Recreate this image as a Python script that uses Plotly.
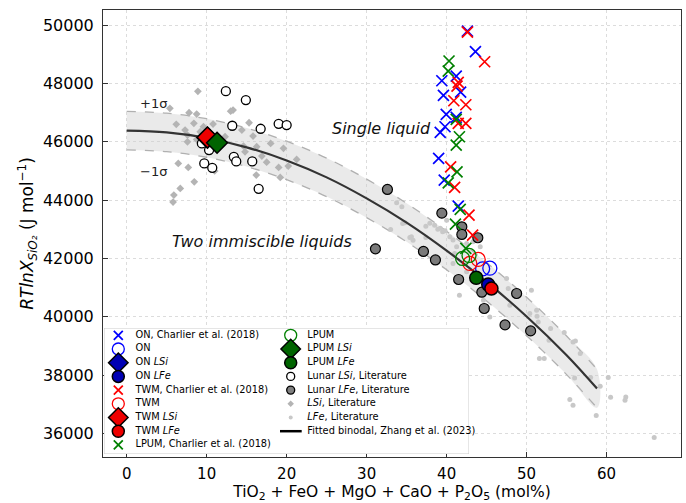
import plotly.graph_objects as go

# ---------------- data ----------------
curve_x = [0, 5, 10, 15, 20, 25, 30, 35, 40, 45, 50, 55, 58.8]
curve_y = [46380, 46320, 46130, 45810, 45360, 44780, 44060, 43230, 42270, 41200, 40010, 38680, 37540]
sigma = 660

on_cross_x = [42.6, 43.6, 39.4, 41.2, 39.6, 41.75, 39.95, 41.2, 39.8, 39.2, 39.0, 39.7, 41.45]
on_cross_y = [49795, 49087, 48092, 48253, 47592, 47705, 46940, 46837, 46515, 46322, 45430, 44686, 43794]
twm_cross_x = [42.6, 44.75, 41.45, 41.3, 40.9, 42.4, 41.45, 42.4, 40.5, 41.0, 42.8, 43.25]
twm_cross_y = [49761, 48744, 48037, 47910, 47406, 47269, 46631, 46631, 45142, 44436, 43486, 42800]
lpum_cross_x = [40.3, 40.2, 41.2, 41.6, 41.2, 41.3, 40.2, 41.7, 41.1, 42.4]
lpum_cross_y = [48768, 48425, 46768, 46172, 45887, 44971, 44594, 43681, 43177, 42344]

on_x, on_y = [44.5, 45.4], [41644, 41668]
twm_x, twm_y = [42.9, 43.95], [41830, 41966]
lpum_x, lpum_y = [42.0, 42.8], [42000, 42103]

on_lsi_x, on_lsi_y = [10.1], [46140]
twm_lsi_x, twm_lsi_y = [10.1], [46151]
lpum_lsi_x, lpum_lsi_y = [11.3], [45966]
on_lfe_x, on_lfe_y = [45.2], [41107]
twm_lfe_x, twm_lfe_y = [45.6], [40970]
lpum_lfe_x, lpum_lfe_y = [43.7], [41335]

lunar_lsi_x = [12.4, 14.9, 13.2, 16.75, 19.0, 20.0, 9.4, 10.3, 9.7, 10.7, 13.4, 13.7, 15.7, 16.5]
lunar_lsi_y = [47736, 47430, 46549, 46446, 46617, 46573, 45945, 45715, 45259, 45108, 45485, 45327, 45327, 44388]
lunar_lfe_x = [32.6, 31.1, 37.1, 38.6, 39.4, 41.9, 41.9, 43.9, 41.5, 44.4, 48.75, 44.7, 47.3, 50.5]
lunar_lfe_y = [44367, 42330, 42241, 41950, 43554, 43085, 42824, 42710, 41280, 40845, 40800, 40286, 39723, 39517]

lsi_lit_x = [8.9, 5.4, 6.2, 7.8, 8.75, 7.3, 8.4, 7.6, 7.6, 8.75, 9.2, 6.45, 7.7, 8.45, 6.7, 5.9, 5.8, 9.6, 10.8,
             13.3, 15.3, 14.4, 15.8, 14.6, 16.25, 18.0, 19.6, 16.9, 21.25, 14.8, 19.0, 20.2, 16.2, 19.2, 12.3,
             13.0, 17.5, 11.0]
lsi_lit_y = [47729, 47146, 46597, 46995, 46950, 46401, 46631, 46230, 46000, 46082, 46343, 45259, 45122, 44628,
             44401, 44172, 43932, 46515, 46607, 47087, 46652, 46401, 46195, 45852, 45829, 45945, 45774, 45510,
             45396, 45657, 45122, 45166, 44858, 44779, 46172, 47050, 45300, 45000]
lfe_lit_x = [33.75, 34.4, 34.8, 33.0, 35.4, 35.8, 37.4, 37.4, 34.5, 35.6, 37.9, 38.5, 39.2, 39.5, 40.0, 40.4,
             40.8, 41.25, 42.5, 43.3, 44.2, 41.0, 40.8, 42.5, 41.6, 44.6, 45.4, 47.7, 47.9, 50.6, 51.25, 47.5,
             50.4, 51.3, 51.45, 53.0, 52.8, 51.6, 52.2, 54.7, 55.8, 56.1, 56.7, 56.0, 58.0, 59.2, 60.2, 55.4,
             55.8, 58.7, 60.5, 62.4, 62.3, 65.95, 38.9, 39.8]
lfe_lit_y = [43908, 43770, 43222, 42995, 42721, 42628, 43108, 42721, 43201, 42742, 43211, 43143, 43040, 42920,
             43314, 42742, 42629, 42400, 42515, 42570, 42400, 42172, 41830, 41541, 40742, 40570, 39998, 40972,
             40399, 40913, 40227, 41315, 40114, 40021, 39826, 39599, 39198, 38570, 38570, 39462, 39140, 39174,
             38742, 37905, 37919, 37620, 37919, 37164, 36969, 36615, 37243, 37253, 37140, 35861, 43000, 42950]

x_ticks = [0, 10, 20, 30, 40, 50, 60]
y_ticks = [36000, 38000, 40000, 42000, 44000, 46000, 48000, 50000]

# legend entries: (label, symbol, size, fill, edge, edge width)
legend_left = [
    ("ON, Charlier et al. (2018)", "x-thin", 9, "#0000ff", "#0000ff", 1.8),
    ("ON", "circle-open", 12, "#0000ff", "#0000ff", 1.3),
    ("ON <i>LSi</i>", "diamond", 15, "#0000b4", "black", 1.5),
    ("ON <i>LFe</i>", "circle", 12, "#0000b4", "black", 1.5),
    ("TWM, Charlier et al. (2018)", "x-thin", 9, "#ff0000", "#ff0000", 1.8),
    ("TWM", "circle-open", 12, "#ff0000", "#ff0000", 1.3),
    ("TWM <i>LSi</i>", "diamond", 15, "#ee0000", "black", 1.5),
    ("TWM <i>LFe</i>", "circle", 12, "#ee0000", "black", 1.5),
    ("LPUM, Charlier et al. (2018)", "x-thin", 9, "#008000", "#008000", 1.8),
]
legend_right = [
    ("LPUM", "circle-open", 12, "#008000", "#008000", 1.3),
    ("LPUM <i>LSi</i>", "diamond", 15, "#006400", "black", 1.5),
    ("LPUM <i>LFe</i>", "circle", 12, "#006400", "black", 1.5),
    ("Lunar <i>LSi</i>, Literature", "circle", 8, "white", "black", 1.3),
    ("Lunar <i>LFe</i>, Literature", "circle", 8, "#808080", "black", 1.3),
    ("<i>LSi</i>, Literature", "diamond", 5, "#b4b4b4", "#b4b4b4", 0),
    ("<i>LFe</i>, Literature", "circle", 4, "#c8c8c8", "#c8c8c8", 0),
]
fit_label = "Fitted binodal, Zhang et al. (2023)"

FONT = "DejaVu Sans"
fig = go.Figure()

# ---------------- band ----------------
upper = [v + sigma for v in curve_y]
lower = [v - sigma for v in curve_y]
fig.add_trace(go.Scatter(x=curve_x + curve_x[::-1], y=upper + lower[::-1], fill="toself",
                         fillcolor="rgba(205,205,205,0.42)", line=dict(width=0), mode="lines",
                         line_shape="spline", hoverinfo="skip", showlegend=False))
for b in (upper, lower):
    fig.add_trace(go.Scatter(x=curve_x, y=b, mode="lines", line=dict(color="#b0b0b0", width=1.3, dash="dash"),
                             line_shape="spline", showlegend=False))

# ---------------- literature ----------------
fig.add_trace(go.Scatter(x=lsi_lit_x, y=lsi_lit_y, mode="markers",
                         marker=dict(symbol="diamond", size=6, color="#b4b4b4", opacity=1), showlegend=False))
fig.add_trace(go.Scatter(x=lfe_lit_x, y=lfe_lit_y, mode="markers",
                         marker=dict(symbol="circle", size=5, color="#c8c8c8", opacity=1), showlegend=False))

# ---------------- fitted curve ----------------
fig.add_trace(go.Scatter(x=curve_x, y=curve_y, mode="lines", line=dict(color="#333333", width=2.2),
                         line_shape="spline", showlegend=False))

# ---------------- lunar ----------------
fig.add_trace(go.Scatter(x=lunar_lsi_x, y=lunar_lsi_y, mode="markers",
                         marker=dict(symbol="circle", size=9, color="white", line=dict(color="black", width=1.3)),
                         showlegend=False))
fig.add_trace(go.Scatter(x=lunar_lfe_x, y=lunar_lfe_y, mode="markers",
                         marker=dict(symbol="circle", size=10, color="#7a7a7a", line=dict(color="black", width=1.2)),
                         showlegend=False))

# ---------------- experiments ----------------
def cross(x, y, c):
    fig.add_trace(go.Scatter(x=x, y=y, mode="markers", showlegend=False,
                             marker=dict(symbol="x-thin", size=11, color=c, line=dict(color=c, width=1.7))))

cross(on_cross_x, on_cross_y, "#0000ff")
cross(twm_cross_x, twm_cross_y, "#ff0000")
cross(lpum_cross_x, lpum_cross_y, "#008000")

for xs, ys, c in ((on_x, on_y, "#0000ff"), (twm_x, twm_y, "#ff0000"), (lpum_x, lpum_y, "#008000")):
    fig.add_trace(go.Scatter(x=xs, y=ys, mode="markers", showlegend=False,
                             marker=dict(symbol="circle-open", size=14, color=c, line=dict(color=c, width=1.3))))

for xs, ys, c in ((on_lsi_x, on_lsi_y, "#0000b4"), (twm_lsi_x, twm_lsi_y, "#ee0000"),
                  (lpum_lsi_x, lpum_lsi_y, "#006400")):
    fig.add_trace(go.Scatter(x=xs, y=ys, mode="markers", showlegend=False,
                             marker=dict(symbol="diamond", size=16, color=c, line=dict(color="black", width=1.5))))

for xs, ys, c in ((on_lfe_x, on_lfe_y, "#0000b4"), (twm_lfe_x, twm_lfe_y, "#ee0000"),
                  (lpum_lfe_x, lpum_lfe_y, "#006400")):
    fig.add_trace(go.Scatter(x=xs, y=ys, mode="markers", showlegend=False,
                             marker=dict(symbol="circle", size=13, color=c, line=dict(color="black", width=1.5))))

# ---------------- legend (inset axes, pixel-like units) ----------------
LX0, LX1, LY0, LY1 = 104, 469, 454, 328
fig.add_trace(go.Scatter(x=[LX0, LX1, LX1, LX0, LX0], y=[LY0, LY0, LY1, LY1, LY0], xaxis="x2", yaxis="y2",
                         mode="lines", fill="toself", fillcolor="rgba(255,255,255,0.85)",
                         line=dict(color="#cccccc", width=1), showlegend=False, hoverinfo="skip"))
row0, dy = 335.3, 13.7
entries = [(e, 118.3, 135.5, i) for i, e in enumerate(legend_left)] + \
          [(e, 290.7, 307.3, i) for i, e in enumerate(legend_right)]
fig.add_trace(go.Scatter(
    x=[mx for _, mx, _, _ in entries], y=[row0 + i * dy for _, _, _, i in entries],
    xaxis="x2", yaxis="y2", mode="markers", showlegend=False, hoverinfo="skip", cliponaxis=False,
    marker=dict(symbol=[e[1] for e, *_ in entries], size=[e[2] for e, *_ in entries],
                color=[e[3] for e, *_ in entries], opacity=1,
                line=dict(color=[e[4] for e, *_ in entries], width=[e[5] for e, *_ in entries]))))
n_right = len(legend_right)
fig.add_trace(go.Scatter(x=[280, 301.7], y=[row0 + n_right * dy] * 2, xaxis="x2", yaxis="y2", mode="lines",
                         line=dict(color="black", width=2.5), showlegend=False, hoverinfo="skip"))
fig.add_trace(go.Scatter(
    x=[tx for _, _, tx, _ in entries] + [307.3], y=[row0 + i * dy for _, _, _, i in entries] + [row0 + n_right * dy],
    text=[e[0] for e, *_ in entries] + [fit_label], xaxis="x2", yaxis="y2", mode="text", cliponaxis=False,
    textposition="middle right", textfont=dict(family=FONT, size=9.8, color="black"),
    showlegend=False, hoverinfo="skip"))

# ---------------- annotations ----------------
def note(x, y, text, size, color):
    fig.add_annotation(x=x, y=y, text=text, showarrow=False, xref="x", yref="y",
                       font=dict(family=FONT, size=size, color=color))

note(3.3, 47320, "+1σ", 13, "#222")
note(3.3, 44990, "−1σ", 13, "#222")
note(31.9, 46470, "<i>Single liquid</i>", 16, "#111")
note(16.9, 42590, "<i>Two immiscible liquids</i>", 16, "#111")

W, H = 686, 503
ml, mr, mt, mb = 103, 5, 10, 46
pw, ph = W - ml - mr, H - mt - mb
axis_common = dict(showline=True, linecolor="#333333", linewidth=1, mirror=True, ticks="inside", ticklen=5,
                   tickcolor="#333333", showgrid=True, gridcolor="#dcdcdc", griddash="dot", gridwidth=1,
                   zeroline=False, tickformat="d", automargin=False)
fig.update_layout(
    width=W, height=H, margin=dict(l=ml, r=mr, t=mt, b=mb),
    paper_bgcolor="white", plot_bgcolor="white", showlegend=False,
    font=dict(family=FONT, color="black"),
    xaxis=dict(range=[-2.96, 69.3], tickvals=x_ticks, ticklabelstandoff=3,
               tickfont=dict(family=FONT, size=15, color="black"),
               title=dict(text="TiO<sub>2</sub> + FeO + MgO + CaO + P<sub>2</sub>O<sub>5</sub> (mol%)",
                          font=dict(family=FONT, size=15.5), standoff=6), **axis_common),
    yaxis=dict(range=[35195, 50517], tickvals=y_ticks, ticklabelstandoff=5,
               tickfont=dict(family=FONT, size=16, color="black"),
               title=dict(text="<i>RTlnX</i><sub><i>SiO₂</i></sub> (J mol<sup>−1</sup>)",
                          font=dict(family=FONT, size=17), standoff=4), **axis_common),
    xaxis2=dict(domain=[(LX0 - ml) / pw, (LX1 - ml) / pw], range=[LX0, LX1], visible=False, anchor="y2",
                fixedrange=True),
    yaxis2=dict(domain=[(H - mb - LY0) / ph, (H - mb - LY1) / ph], range=[LY0, LY1], visible=False,
                anchor="x2", fixedrange=True),
)

fig.write_html("out.html")
